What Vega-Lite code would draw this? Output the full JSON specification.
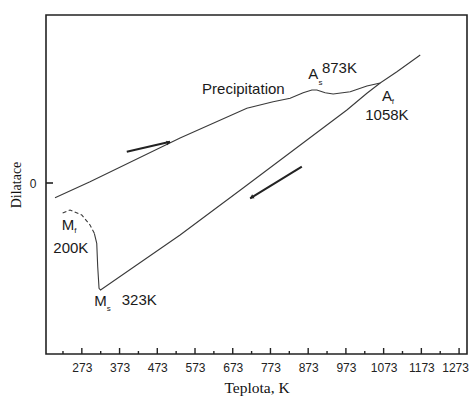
{
  "$schema": "https://vega.github.io/schema/vega-lite/v6.json",
  "width": 421,
  "height": 339,
  "autosize": "none",
  "padding": {"left": 46, "top": 15, "right": 4, "bottom": 43},
  "background": "white",
  "config": {
    "view": {"stroke": "#222", "strokeWidth": 1.6},
    "axis": {"grid": false, "domain": false, "ticks": false, "labelColor": "#222", "titleColor": "#111", "titleFontWeight": "normal"}
  },
  "datasets": {
    "heating": [
      {"t": 201.9, "d": -14.7},
      {"t": 294.7, "d": 1.3},
      {"t": 533.4, "d": 45},
      {"t": 710.4, "d": 74.7},
      {"t": 780.1, "d": 81.3},
      {"t": 825.2, "d": 84.7},
      {"t": 859.7, "d": 90.3},
      {"t": 882.8, "d": 93},
      {"t": 896.0, "d": 93},
      {"t": 918.0, "d": 90.3},
      {"t": 939.3, "d": 89},
      {"t": 984.4, "d": 91.3},
      {"t": 1028.7, "d": 97},
      {"t": 1063.9, "d": 100},
      {"t": 1108.2, "d": 111.3},
      {"t": 1170.0, "d": 128}
    ],
    "cooling": [
      {"i": 0, "t": 1063.9, "d": 100},
      {"i": 1, "t": 1028.7, "d": 89.7},
      {"i": 2, "t": 975.6, "d": 73},
      {"i": 3, "t": 700.5, "d": -5},
      {"i": 4, "t": 533.4, "d": -52},
      {"i": 5, "t": 322.6, "d": -107},
      {"i": 6, "t": 318.6, "d": -105.3},
      {"i": 7, "t": 315.1, "d": -83.7},
      {"i": 8, "t": 312.5, "d": -60.3},
      {"i": 9, "t": 306.1, "d": -50.3}
    ],
    "mf": [
      {"i": 0, "t": 306.1, "d": -50.3},
      {"i": 1, "t": 294.7, "d": -42},
      {"i": 2, "t": 272.7, "d": -32},
      {"i": 3, "t": 241.7, "d": -27},
      {"i": 4, "t": 219.6, "d": -30.3}
    ],
    "arrows": [
      {"t": 392.1, "d": 31.3, "t2": 506.9, "d2": 41.3},
      {"t": 719.1, "d": -15.3, "t2": 856.2, "d2": 16.3}
    ],
    "heads": [
      {"t": 503.0, "d": 40.4, "shape": "triangle-right", "angle": -13},
      {"t": 723.0, "d": -14.4, "shape": "triangle-left", "angle": -31}
    ],
    "xticks": [
      {"t": 223, "lo": -171, "hi": -168}, {"t": 273, "lo": -171, "hi": -165},
      {"t": 323, "lo": -171, "hi": -168}, {"t": 373, "lo": -171, "hi": -165},
      {"t": 423, "lo": -171, "hi": -168}, {"t": 473, "lo": -171, "hi": -165},
      {"t": 523, "lo": -171, "hi": -168}, {"t": 573, "lo": -171, "hi": -165},
      {"t": 623, "lo": -171, "hi": -168}, {"t": 673, "lo": -171, "hi": -165},
      {"t": 723, "lo": -171, "hi": -168}, {"t": 773, "lo": -171, "hi": -165},
      {"t": 823, "lo": -171, "hi": -168}, {"t": 873, "lo": -171, "hi": -165},
      {"t": 923, "lo": -171, "hi": -168}, {"t": 973, "lo": -171, "hi": -165},
      {"t": 1023, "lo": -171, "hi": -168}, {"t": 1073, "lo": -171, "hi": -165},
      {"t": 1123, "lo": -171, "hi": -168}, {"t": 1173, "lo": -171, "hi": -165},
      {"t": 1223, "lo": -171, "hi": -168}, {"t": 1273, "lo": -171, "hi": -165}
    ],
    "yticks": [
      {"t": 178, "t2": 196.6, "d": 0}
    ],
    "labels": [
      {"t": 591.8, "d": 94, "text": "Precipitation", "size": 15},
      {"t": 873.0, "d": 109, "text": "A", "size": 15},
      {"t": 909.3, "d": 114.7, "text": "873K", "size": 15},
      {"t": 1068.4, "d": 87, "text": "A", "size": 15},
      {"t": 1024.2, "d": 68, "text": "1058K", "size": 15},
      {"t": 219.6, "d": -42, "text": "M", "size": 15},
      {"t": 197.4, "d": -65, "text": "200K", "size": 15},
      {"t": 306.1, "d": -118, "text": "M", "size": 15},
      {"t": 378.8, "d": -117, "text": "323K", "size": 15}
    ],
    "subs": [
      {"t": 900.3, "d": 100.3, "text": "s"},
      {"t": 1094.5, "d": 81.5, "text": "f"},
      {"t": 253.1, "d": -48, "text": "f"},
      {"t": 339.0, "d": -126, "text": "s"}
    ]
  },
  "layer": [
    {
      "data": {"name": "heating"},
      "mark": {"type": "line", "color": "#3a3a3a", "strokeWidth": 1.1},
      "encoding": {
        "x": {
          "field": "t", "type": "quantitative",
          "scale": {"domain": [178, 1294], "nice": false, "zero": false},
          "axis": {
            "values": [273, 373, 473, 573, 673, 773, 873, 973, 1073, 1173, 1273],
            "format": "d", "labelOverlap": false, "labelFlush": false,
            "labelOffset": {"condition": {"test": "datum.value == 1273", "value": -4}, "value": 0},
            "labelFont": "Liberation Sans", "labelFontSize": 12, "labelPadding": 8,
            "title": "Teplota, K", "titleFont": "Liberation Serif", "titleFontSize": 15.5,
            "titleFontWeight": "normal", "titlePadding": 7
          }
        },
        "y": {
          "field": "d", "type": "quantitative",
          "scale": {"domain": [-171, 168], "nice": false, "zero": false},
          "axis": {
            "values": [0],
            "labelFont": "Liberation Sans", "labelFontSize": 12, "labelPadding": 10,
            "title": "Dilatace", "titleFont": "Liberation Serif", "titleFontSize": 14,
            "titleFontWeight": "normal", "titlePadding": 6
          }
        }
      }
    },
    {
      "data": {"name": "cooling"},
      "mark": {"type": "line", "color": "#3a3a3a", "strokeWidth": 1.1},
      "encoding": {
        "x": {"field": "t", "type": "quantitative"},
        "y": {"field": "d", "type": "quantitative"},
        "order": {"field": "i", "type": "quantitative"}
      }
    },
    {
      "data": {"name": "mf"},
      "mark": {"type": "line", "color": "#3a3a3a", "strokeWidth": 1.1, "strokeDash": [4, 2.5]},
      "encoding": {
        "x": {"field": "t", "type": "quantitative"},
        "y": {"field": "d", "type": "quantitative"},
        "order": {"field": "i", "type": "quantitative"}
      }
    },
    {
      "data": {"name": "arrows"},
      "mark": {"type": "rule", "color": "#222", "strokeWidth": 2},
      "encoding": {
        "x": {"field": "t", "type": "quantitative"},
        "y": {"field": "d", "type": "quantitative"},
        "x2": {"field": "t2"},
        "y2": {"field": "d2"}
      }
    },
    {
      "data": {"name": "heads"},
      "mark": {"type": "point", "filled": true, "color": "#222", "size": 22, "opacity": 1},
      "encoding": {
        "x": {"field": "t", "type": "quantitative"},
        "y": {"field": "d", "type": "quantitative"},
        "shape": {"field": "shape", "type": "nominal", "scale": null, "legend": null},
        "angle": {"field": "angle", "type": "quantitative", "scale": null}
      }
    },
    {
      "data": {"name": "xticks"},
      "mark": {"type": "rule", "color": "#222", "strokeWidth": 1.4},
      "encoding": {
        "x": {"field": "t", "type": "quantitative"},
        "y": {"field": "lo", "type": "quantitative"},
        "y2": {"field": "hi"}
      }
    },
    {
      "data": {"name": "yticks"},
      "mark": {"type": "rule", "color": "#222", "strokeWidth": 1.6},
      "encoding": {
        "x": {"field": "t", "type": "quantitative"},
        "x2": {"field": "t2"},
        "y": {"field": "d", "type": "quantitative"}
      }
    },
    {
      "data": {"name": "labels"},
      "mark": {"type": "text", "align": "left", "baseline": "middle", "font": "Liberation Sans", "color": "#1a1a1a"},
      "encoding": {
        "x": {"field": "t", "type": "quantitative"},
        "y": {"field": "d", "type": "quantitative"},
        "text": {"field": "text"},
        "size": {"field": "size", "type": "quantitative", "scale": null, "legend": null}
      }
    },
    {
      "data": {"name": "subs"},
      "mark": {"type": "text", "align": "left", "baseline": "middle", "font": "Liberation Sans", "fontSize": 8, "color": "#1a1a1a"},
      "encoding": {
        "x": {"field": "t", "type": "quantitative"},
        "y": {"field": "d", "type": "quantitative"},
        "text": {"field": "text"}
      }
    }
  ]
}
